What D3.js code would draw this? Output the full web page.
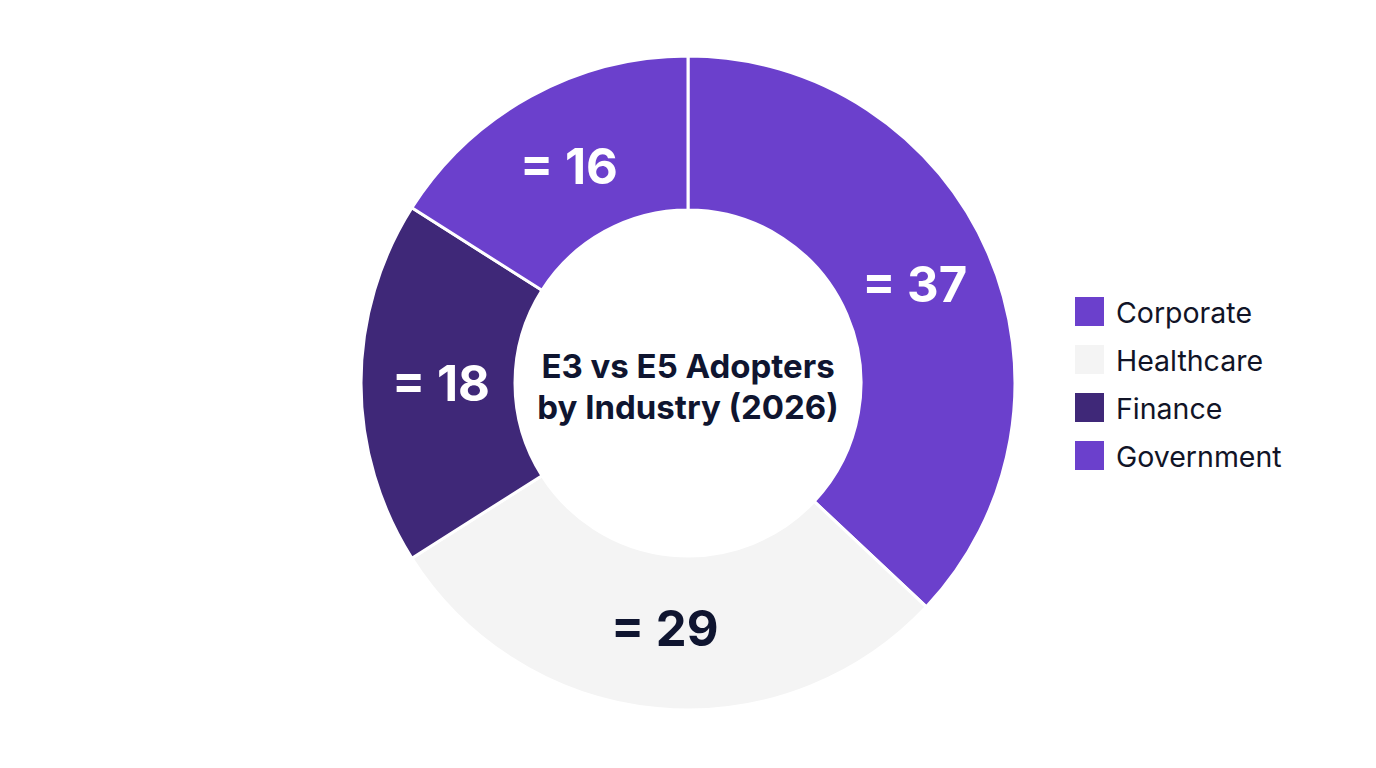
<!DOCTYPE html>
<html>
<head>
<meta charset="utf-8">
<script src="https://cdn.jsdelivr.net/npm/d3@7"></script>
<style>
  html, body { margin: 0; padding: 0; background: #ffffff; }
  svg { display: block; font-family: Inter, "Noto Sans", sans-serif; }
</style>
</head>
<body>
<div id="chart"></div>
<script>
const categories = ["Corporate", "Healthcare", "Finance", "Government"];
const values = [37, 29, 18, 16];
const colors = ["#6b40cc", "#f4f4f4", "#3f2878", "#6b40cc"];
const labelColors = ["#ffffff", "#0f1530", "#ffffff", "#ffffff"];
const titleLines = ["E3 vs E5 Adopters", "by Industry (2026)"];

const width = 1376;
const height = 768;
const cx = 688, cy = 383;
const outerR = 327, innerR = 173;

const data = categories.map((c, i) => ({ category: c, value: values[i], i }));

const svg = d3.select("#chart")
  .append("svg")
  .attr("width", width)
  .attr("height", height);

const g = svg.append("g")
  .attr("transform", `translate(${cx}, ${cy})`);

const pie = d3.pie()
  .sort(null)
  .value(d => d.value);

const arc = d3.arc()
  .innerRadius(innerR)
  .outerRadius(outerR);

const labelArc = d3.arc()
  .innerRadius(247)
  .outerRadius(247);

const arcs = pie(data);

g.selectAll(".slice")
  .data(arcs)
  .enter()
  .append("path")
  .attr("class", "slice")
  .attr("d", arc)
  .attr("fill", d => colors[d.data.i])
  .attr("stroke", "#ffffff")
  .attr("stroke-width", 3);

g.selectAll(".value-label")
  .data(arcs)
  .enter()
  .append("text")
  .attr("class", "value-label")
  .attr("transform", d => `translate(${labelArc.centroid(d)})`)
  .attr("text-anchor", "middle")
  .attr("dominant-baseline", "central")
  .style("font-size", "49px")
  .style("font-weight", "700")
  .attr("fill", d => labelColors[d.data.i])
  .text(d => "= " + d.data.value);

g.selectAll(".title")
  .data(titleLines)
  .enter()
  .append("text")
  .attr("class", "title")
  .attr("x", 0)
  .attr("y", (d, i) => -5 + i * 41)
  .attr("text-anchor", "middle")
  .style("font-size", "33px")
  .style("font-weight", "700")
  .attr("fill", "#0f1530")
  .text(d => d);

const legend = svg.append("g")
  .attr("transform", "translate(1075, 312)");

const rows = legend.selectAll(".legend-row")
  .data(data)
  .enter()
  .append("g")
  .attr("class", "legend-row")
  .attr("transform", (d, i) => `translate(0, ${i * 48})`);

rows.append("rect")
  .attr("x", 0)
  .attr("y", -15)
  .attr("width", 29)
  .attr("height", 29)
  .attr("fill", d => colors[d.i]);

rows.append("text")
  .attr("x", 41)
  .attr("y", 0)
  .attr("dominant-baseline", "central")
  .style("font-size", "28.5px")
  .attr("fill", "#111427")
  .text(d => d.category);
</script>
</body>
</html>
